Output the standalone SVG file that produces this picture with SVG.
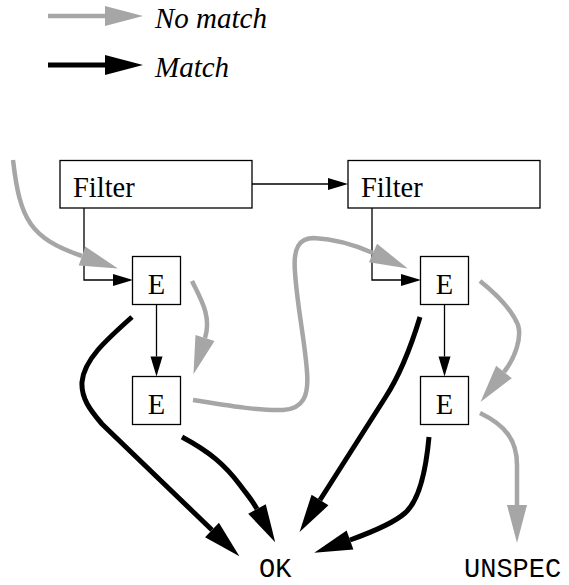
<svg xmlns="http://www.w3.org/2000/svg" width="569" height="585" viewBox="0 0 569 585">
  <style>
    .box { fill: #ffffff; stroke: #000000; stroke-width: 1.3; }
    .label { font-family: "Liberation Serif", "Times New Roman", serif; font-size: 28.5px; fill: #000000; }
    .legend { font-family: "Liberation Serif", "Times New Roman", serif; font-size: 29px; font-style: italic; fill: #000000; }
    .mono { font-family: "Liberation Mono", "Courier New", monospace; font-size: 27px; fill: #000000; }
    .thin { fill: none; stroke: #000000; stroke-width: 1.3; marker-end: url(#thinHead); }
    .nomatch { fill: none; stroke: #a6a6a6; stroke-width: 4.5; stroke-linecap: butt; marker-end: url(#grayHead); }
    .match { fill: none; stroke: #000000; stroke-width: 5; stroke-linecap: butt; marker-end: url(#blackHead); }
  </style>
  <defs>
    <marker id="thinHead" markerUnits="userSpaceOnUse" markerWidth="22" markerHeight="14" refX="0" refY="6" orient="auto" overflow="visible">
      <path d="M0,0 L20,6 L0,12 Z" fill="#000000"/>
    </marker>
    <marker id="grayHead" markerUnits="userSpaceOnUse" markerWidth="40" markerHeight="22" refX="0" refY="10" orient="auto" overflow="visible">
      <path d="M0,0 L38,10 L0,20 Z" fill="#a6a6a6"/>
    </marker>
    <marker id="blackHead" markerUnits="userSpaceOnUse" markerWidth="40" markerHeight="22" refX="0" refY="10" orient="auto" overflow="visible">
      <path d="M0,0 L38,10 L0,20 Z" fill="#000000"/>
    </marker>
  </defs>

  <!-- legend -->
  <g id="legend">
    <path class="nomatch" d="M48,16 L105,16"/>
    <text class="legend" x="155" y="28">No match</text>
    <path class="match" d="M48,65 L105,65"/>
    <text class="legend" x="155" y="77">Match</text>
  </g>

  <!-- nodes -->
  <g id="filter1">
    <rect class="box" x="60" y="160.5" width="192" height="47.5"/>
    <text class="label" x="73" y="197">Filter</text>
  </g>
  <g id="filter2">
    <rect class="box" x="348" y="160.5" width="192" height="47.5"/>
    <text class="label" x="361" y="197">Filter</text>
  </g>
  <g id="e1">
    <rect class="box" x="132.5" y="256.5" width="48" height="48"/>
    <text class="label" x="156.5" y="294" text-anchor="middle">E</text>
  </g>
  <g id="e2">
    <rect class="box" x="132.5" y="376.5" width="48" height="48"/>
    <text class="label" x="156.5" y="414" text-anchor="middle">E</text>
  </g>
  <g id="e3">
    <rect class="box" x="420.5" y="256.5" width="48" height="48"/>
    <text class="label" x="444.5" y="294" text-anchor="middle">E</text>
  </g>
  <g id="e4">
    <rect class="box" x="420.5" y="376.5" width="48" height="48"/>
    <text class="label" x="444.5" y="414" text-anchor="middle">E</text>
  </g>
  <g id="ok">
    <text class="mono" x="259" y="576.5">OK</text>
  </g>
  <g id="unspec">
    <text class="mono" x="464" y="576.5">UNSPEC</text>
  </g>

  <!-- connectors -->
  <g id="connectors">
    <path class="thin" d="M252,184 H328"/>
    <path class="thin" d="M84,208 V280 H113"/>
    <path class="thin" d="M372,208 V280 H401"/>
    <path class="thin" d="M156.5,304.5 V356.5"/>
    <path class="thin" d="M444.5,304.5 V356.5"/>

    <path class="nomatch" d="M13,160 C20,220 30,238 82,256"/>
    <path class="nomatch" d="M192,281 C200,298 212,316 205,338"/>
    <path class="nomatch" d="M193,400 C230,406 262,411 283,410 C303,409 309,396 307,372 C305,342 297,305 295,272 C293,248 299,238 314,238 C335,239 355,245 373,253"/>
    <path class="nomatch" d="M480,281 C495,293 512,310 518,325 C522,338 515,358 504,372"/>
    <path class="nomatch" d="M480,413 C505,425 517,440 517,465 L517,505"/>

    <path class="match" d="M132,317 C105,341 84,360 82,382 C81,398 90,410 102,424 L212,530"/>
    <path class="match" d="M182,437 C210,452 225,465 240,485 C248,496 251,498 257,509"/>
    <path class="match" d="M420,317 C410,350 400,375 385,398 L320,500"/>
    <path class="match" d="M429,437 C426,470 420,500 405,513 C395,522 375,531 350,540"/>
  </g>
</svg>
